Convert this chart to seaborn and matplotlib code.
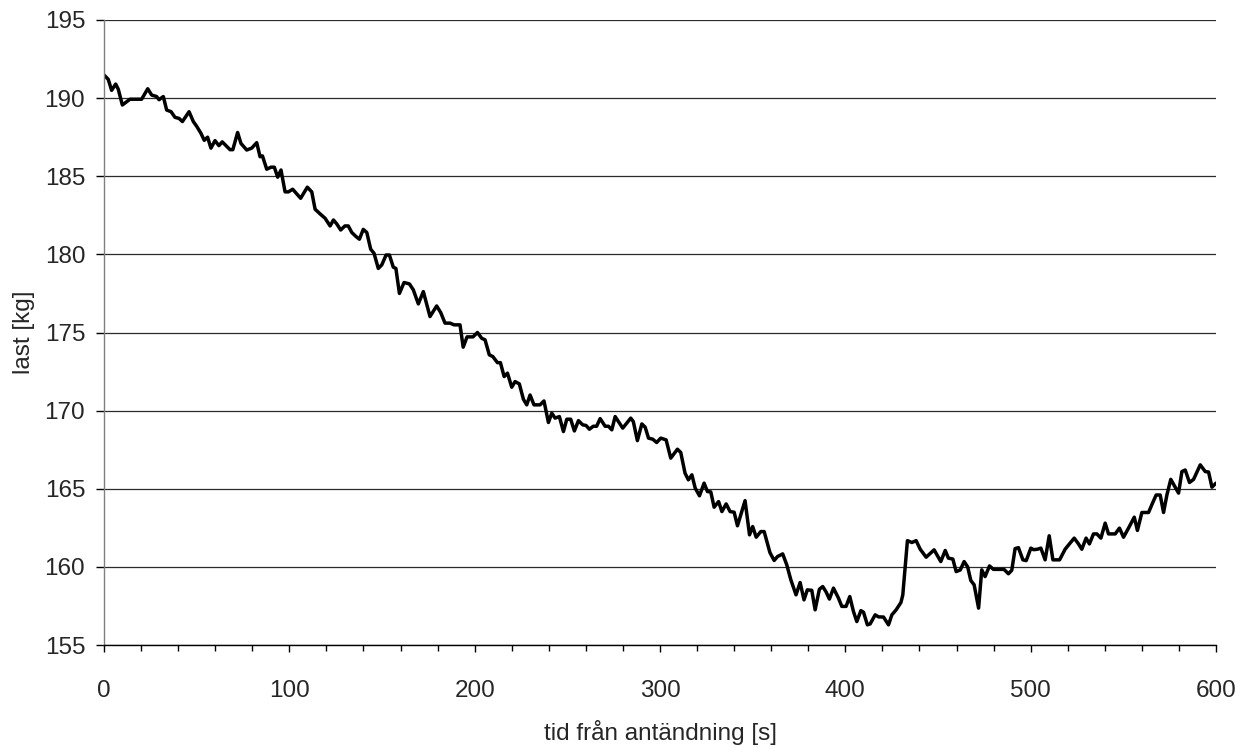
import numpy as np
import pandas as pd
import matplotlib
matplotlib.use("Agg")
import matplotlib.pyplot as plt
from matplotlib.ticker import MultipleLocator
import seaborn as sns

# time [s] and load [kg]
tid = [0, 2.3, 4.1, 6.3, 7.7, 9.9, 14, 20.3, 23.6, 25.7, 28.4, 29.7, 32, 33.8, 36.2, 38.3, 40.5, 42.3,
       45.9, 48.2, 50, 52.3, 54.1, 55.9, 57.7, 59.9, 62, 63.8, 68, 69.5, 72.1, 73.9, 77, 79.7, 82.4,
       84.2, 85.5, 87.8, 90.1, 91.9, 93.7, 95.5, 97.7, 99.5, 101.8, 104, 106.1, 109.7, 112.1, 113.9,
       116.6, 119.3, 122, 123.8, 125.6, 127.7, 130, 131.8, 133.7, 136, 137.8, 139.9, 141.8, 143.9,
       145.7, 148, 149.9, 152.2, 154, 156.1, 157.5, 159.4, 161.9, 164.8, 166.9, 169.6, 172.3, 175.9,
       179.5, 181.7, 184, 186.7, 188.9, 192.1, 193.8, 195.9, 199.1, 201.5, 203.8, 205.6, 207.9, 209.8,
       212.3, 213.9, 215.9, 217.7, 220, 221.8, 224.1, 226.3, 228.1, 229.9, 232, 235.3, 237.4, 239.8,
       241.6, 243.4, 245.7, 247.9, 249.7, 251.8, 253.8, 256, 258.3, 260.1, 261.9, 264, 265.8, 267.7,
       270.4, 272.2, 274, 275.8, 277.6, 279.9, 284.2, 285.6, 287.8, 290.2, 292, 293.8, 296.1, 298.2,
       300.4, 303.3, 305.8, 309.4, 311.2, 313.5, 315.3, 317.2, 319, 321.3, 323.8, 325.6, 327.4, 329.2,
       331.6, 333.4, 335.7, 337.8, 340, 341.8, 345.9, 348.3, 350, 351.9, 354.4, 356.2, 359.3, 361.6,
       363.4, 366.2, 368.4, 370.6, 373.4, 375.6, 377.7, 379.5, 381.9, 383.7, 386, 387.8, 389.6, 391.4,
       393.6, 396.3, 398.1, 400.4, 402.4, 404.4, 406.2, 408.4, 409.8, 411.9, 413.4, 416.1, 417.9, 420.6,
       423.3, 425.1, 427.4, 430, 431, 432.3, 433.5, 435.9, 438.2, 440.4, 443.6, 447.9, 451.5, 453.9,
       455.6, 458, 459.8, 462, 464.1, 466, 467.7, 469.5, 471.9, 473.6, 475.4, 477.8, 479.9, 483.5,
       485.6, 488, 489.8, 491.6, 493.4, 495.8, 497.6, 500.1, 501.6, 503.7, 505.5, 507.8, 510, 512,
       515.6, 518.6, 520.9, 523.5, 525.8, 527.6, 529.9, 531.7, 533.9, 535.7, 537.9, 540.2, 542, 545.6,
       547.9, 550.1, 552.8, 555.9, 557.6, 560, 563.6, 565.9, 567.7, 569.9, 571.7, 573.5, 575.6, 579.8,
       581.6, 583.4, 585.7, 587.9, 591.5, 594.2, 596, 597.8, 600]

last = [191.48, 191.2, 190.5, 190.9, 190.57, 189.56, 189.93, 189.93, 190.6, 190.2, 190.1, 189.9, 190.1,
        189.24, 189.13, 188.77, 188.7, 188.5, 189.13, 188.5, 188.2, 187.75, 187.3, 187.5, 186.8, 187.28,
        186.96, 187.2, 186.7, 186.7, 187.8, 187.1, 186.68, 186.8, 187.15, 186.25, 186.3, 185.45, 185.58,
        185.58, 184.94, 185.4, 184.0, 184.0, 184.17, 183.87, 183.59, 184.3, 184.0, 182.89, 182.59, 182.31,
        181.82, 182.2, 181.95, 181.56, 181.82, 181.82, 181.4, 181.14, 180.97, 181.6, 181.4, 180.33, 180.07,
        179.1, 179.33, 179.96, 179.96, 179.18, 179.1, 177.5, 178.2, 178.11, 177.73, 176.83, 177.62, 176.02,
        176.7, 176.27, 175.6, 175.6, 175.49, 175.49, 174.06, 174.72, 174.72, 175.0, 174.63, 174.53, 173.57,
        173.46, 173.07, 173.07, 172.18, 172.4, 171.5, 171.86, 171.71, 170.73, 170.37, 171.0, 170.37, 170.37,
        170.62, 169.24, 169.84, 169.52, 169.62, 168.66, 169.45, 169.45, 168.7, 169.36, 169.09, 169.05,
        168.81, 169.0, 169.0, 169.49, 169.0, 169.0, 168.77, 169.62, 169.3, 168.88, 169.52, 169.3, 168.08,
        169.15, 168.94, 168.24, 168.17, 167.96, 168.24, 168.13, 166.96, 167.53, 167.32, 166.0, 165.57,
        165.89, 165.04, 164.55, 165.36, 164.82, 164.8, 163.82, 164.18, 163.54, 164.03, 163.54, 163.5,
        162.63, 164.24, 162.05, 162.58, 161.9, 162.26, 162.26, 160.92, 160.41, 160.66, 160.83, 160.13,
        159.17, 158.21, 159.0, 157.89, 158.53, 158.5, 157.25, 158.57, 158.74, 158.4, 157.94, 158.64, 158.0,
        157.47, 157.47, 158.1, 157.14, 156.5, 157.2, 157.1, 156.29, 156.35, 156.93, 156.8, 156.79, 156.29,
        156.93, 157.25, 157.72, 158.2, 160.0, 161.68, 161.56, 161.68, 161.13, 160.62, 161.09, 160.34,
        161.05, 160.56, 160.5, 159.7, 159.8, 160.34, 160.0, 159.13, 158.85, 157.36, 159.81, 159.38, 160.06,
        159.84, 159.84, 159.84, 159.56, 159.78, 161.17, 161.23, 160.45, 160.4, 161.2, 161.1, 161.13, 161.2,
        160.45, 161.99, 160.45, 160.45, 161.13, 161.47, 161.84, 161.47, 161.13, 161.84, 161.47, 162.11,
        162.11, 161.84, 162.8, 162.11, 162.11, 162.48, 161.9, 162.48, 163.18, 162.33, 163.48, 163.48,
        164.12, 164.6, 164.6, 163.48, 164.6, 165.6, 164.72, 166.1, 166.2, 165.4, 165.6, 166.53, 166.1,
        166.07, 165.1, 165.36]

x_ticks = [0, 100, 200, 300, 400, 500, 600]
y_ticks = [155, 160, 165, 170, 175, 180, 185, 190, 195]
x_label = "tid från antändning [s]"
y_label = "last [kg]"

sns.set_style("white")
plt.rcParams['font.family'] = ['Liberation Sans', 'DejaVu Sans']

df = pd.DataFrame({"tid": tid, "last": last})

fig = plt.figure(figsize=(12.47, 7.47), dpi=100)
ax = fig.add_axes([104/1247, 1 - 645/747, (1216-104)/1247, (645-20)/747])

sns.lineplot(data=df, x="tid", y="last", ax=ax, color="black", linewidth=2.5, sort=False)

ax.set_xlim(0, 600)
ax.set_ylim(155, 195)
ax.set_xticks(x_ticks)
ax.set_yticks(y_ticks)
ax.xaxis.set_minor_locator(MultipleLocator(20))

ax.yaxis.grid(True, color="#2b2b2b", linewidth=0.9)
ax.xaxis.grid(False)
ax.set_axisbelow(True)

for s in ["top", "right"]:
    ax.spines[s].set_visible(False)
ax.spines["left"].set_color("#808080")
ax.spines["left"].set_linewidth(1.0)
ax.spines["bottom"].set_color("black")
ax.spines["bottom"].set_linewidth(1.0)

fs_tick = 17.5
fs_lab = 17.5
ax.tick_params(axis="y", which="major", direction="out", length=6, width=1, color="black",
               labelsize=fs_tick, pad=7.5, left=True)
ax.tick_params(axis="x", which="major", direction="out", length=5, width=1, color="black",
               labelsize=fs_tick, pad=20, bottom=True)
ax.tick_params(axis="x", which="minor", direction="out", length=4, width=1, color="black",
               bottom=True)

ax.set_xlabel(x_label, fontsize=fs_lab)
ax.set_ylabel(y_label, fontsize=fs_lab)
ax.xaxis.set_label_coords(0.5, -0.12)
ax.yaxis.set_label_coords(-0.062, 0.5)

fig.savefig("out.png", dpi=100)
